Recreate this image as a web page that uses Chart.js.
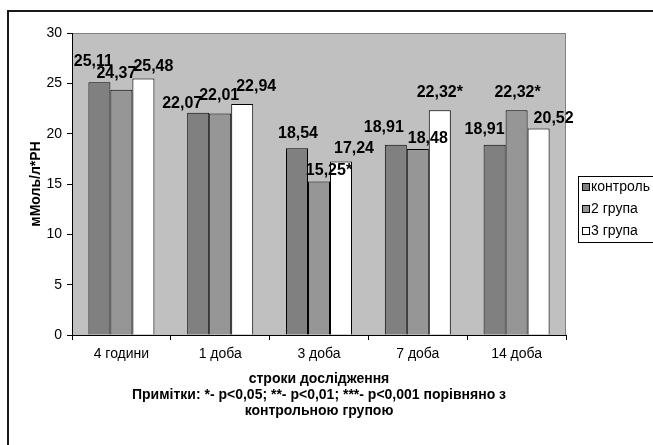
<!DOCTYPE html>
<html><head><meta charset="utf-8">
<script src="https://cdn.jsdelivr.net/npm/chart.js@4.4.1/dist/chart.umd.min.js"></script>
<style>
html,body{margin:0;padding:0;background:#fff;}
#wrap{position:relative;width:653px;height:445px;overflow:hidden;}
#frame{position:absolute;left:7px;top:10px;width:700px;height:500px;border:2px solid #1a1a1a;box-sizing:border-box;}
canvas{position:absolute;left:0;top:0;}
</style></head><body>
<div id="wrap"><div id="frame"></div><canvas id="c" width="653" height="445"></canvas></div>
<script>
const categories = ['4 години', '1 доба', '3 доба', '7 доба', '14 доба'];
const seriesNames = ['контроль', '2 група', '3 група'];
const control = [25.11, 22.07, 18.54, 18.91, 18.91];
const group2 = [24.37, 22.01, 15.25, 18.48, 22.32];
const group3 = [25.48, 22.94, 17.24, 22.32, 20.52];
const marksControl = ['', '', '', '', ''];
const marks2 = ['', '', '*', '', '*'];
const marks3 = ['', '', '', '*', ''];
const yTicks = [0, 5, 10, 15, 20, 25, 30];
const yTitle = 'мМоль/л*PH';
const xTitle = ['строки дослідження', 'Примітки: *- p<0,05; **- p<0,01; ***- p<0,001 порівняно з', 'контрольною групою'];

const FONT = "'Liberation Sans', Arial, sans-serif";

const plotBg = {
  id: 'plotBg',
  beforeDraw(chart) {
    const {ctx, chartArea: a} = chart;
    ctx.save();
    ctx.fillStyle = '#c0c0c0';
    ctx.fillRect(a.left, a.top, a.right - a.left, a.bottom - a.top);
    ctx.strokeStyle = '#808080';
    ctx.lineWidth = 1;
    ctx.strokeRect(a.left + 0.5, a.top + 0.5, a.right - a.left - 1, a.bottom - a.top);
    ctx.restore();
  }
};

const valueLabels = {
  id: 'valueLabels',
  afterDatasetsDraw(chart, args, o) {
    const ctx = chart.ctx;
    ctx.save();
    ctx.font = 'bold 16px ' + FONT;
    ctx.fillStyle = '#000';
    ctx.textAlign = 'center';
    ctx.textBaseline = 'middle';
    chart.data.datasets.forEach((ds, i) => {
      const meta = chart.getDatasetMeta(i);
      meta.data.forEach((el, j) => {
        const txt = ds.data[j].toFixed(2).replace('.', ',') + ds.marks[j];
        const n = o.nudge[i][j];
        ctx.fillText(txt, el.x + n[0], el.y - n[1]);
      });
    });
    ctx.restore();
  }
};

const boxLegend = {
  id: 'boxLegend',
  afterDraw(chart, args, o) {
    const ctx = chart.ctx;
    ctx.save();
    ctx.fillStyle = '#fff';
    ctx.fillRect(o.left, o.top, o.width, o.height);
    ctx.strokeStyle = '#000';
    ctx.lineWidth = 1;
    ctx.strokeRect(o.left + 0.5, o.top + 0.5, o.width, o.height);
    ctx.font = '14px ' + FONT;
    ctx.textBaseline = 'middle';
    ctx.textAlign = 'left';
    chart.data.datasets.forEach((ds, i) => {
      const y = Math.round(o.top + o.firstRow + i * o.rowGap);
      ctx.fillStyle = ds.backgroundColor;
      ctx.fillRect(o.left + 4.5, y - 3.5, 7, 7);
      ctx.strokeRect(o.left + 4.5, y - 3.5, 7, 7);
      ctx.fillStyle = '#000';
      ctx.fillText(ds.label, o.left + 13, y);
    });
    ctx.restore();
  }
};

new Chart(document.getElementById('c'), {
  type: 'bar',
  data: {
    labels: categories,
    datasets: [
      {label: seriesNames[0], data: control, marks: marksControl, backgroundColor: '#808080'},
      {label: seriesNames[1], data: group2, marks: marks2, backgroundColor: '#969696'},
      {label: seriesNames[2], data: group3, marks: marks3, backgroundColor: '#ffffff'}
    ].map(d => Object.assign(d, {borderColor: '#000', borderWidth: 1, categoryPercentage: 0.668, barPercentage: 1}))
  },
  options: {
    responsive: false,
    devicePixelRatio: 1,
    animation: false,
    layout: {padding: {top: 33, right: 87, left: 0, bottom: 0}},
    plugins: {
      legend: {display: false},
      tooltip: {enabled: false},
      valueLabels: {
        nudge: [
          [[-6, 21], [-16, 9], [1, 15], [-12, 17], [-10, 15]],
          [[-5, 16], [-1, 18], [10, 10.5], [10, 10], [1, 18]],
          [[10, 12], [14, 17], [13, 13], [0, 18], [15, 9.5]]
        ]
      },
      boxLegend: {left: 578, top: 176, width: 90, height: 66, firstRow: 11, rowGap: 22}
    },
    scales: {
      x: {
        grid: {display: true, drawOnChartArea: false, drawTicks: true, tickLength: 5, color: '#000', offset: true},
        border: {display: true, color: '#000'},
        ticks: {font: {family: FONT, size: 14}, color: '#000', padding: 6, maxRotation: 0},
        title: {display: true, text: xTitle, font: {family: FONT, size: 14, weight: 'bold', lineHeight: 1.143}, color: '#000', padding: {top: 0, bottom: 26}},
        afterFit(s) { s.height = 110; }
      },
      y: {
        min: 0, max: 30,
        afterBuildTicks(s) { s.ticks = yTicks.map(v => ({value: v})); },
        grid: {display: true, drawOnChartArea: false, drawTicks: true, tickLength: 5, color: '#000'},
        border: {display: true, color: '#000'},
        ticks: {font: {family: FONT, size: 14}, color: '#000', padding: 5},
        title: {display: true, text: yTitle, font: {family: FONT, size: 14, weight: 'bold', lineHeight: 1.2}, color: '#000', padding: {top: 28, bottom: 0}},
        afterFit(s) { s.width = 72; }
      }
    }
  },
  plugins: [plotBg, valueLabels, boxLegend]
});
</script>
</body></html>
